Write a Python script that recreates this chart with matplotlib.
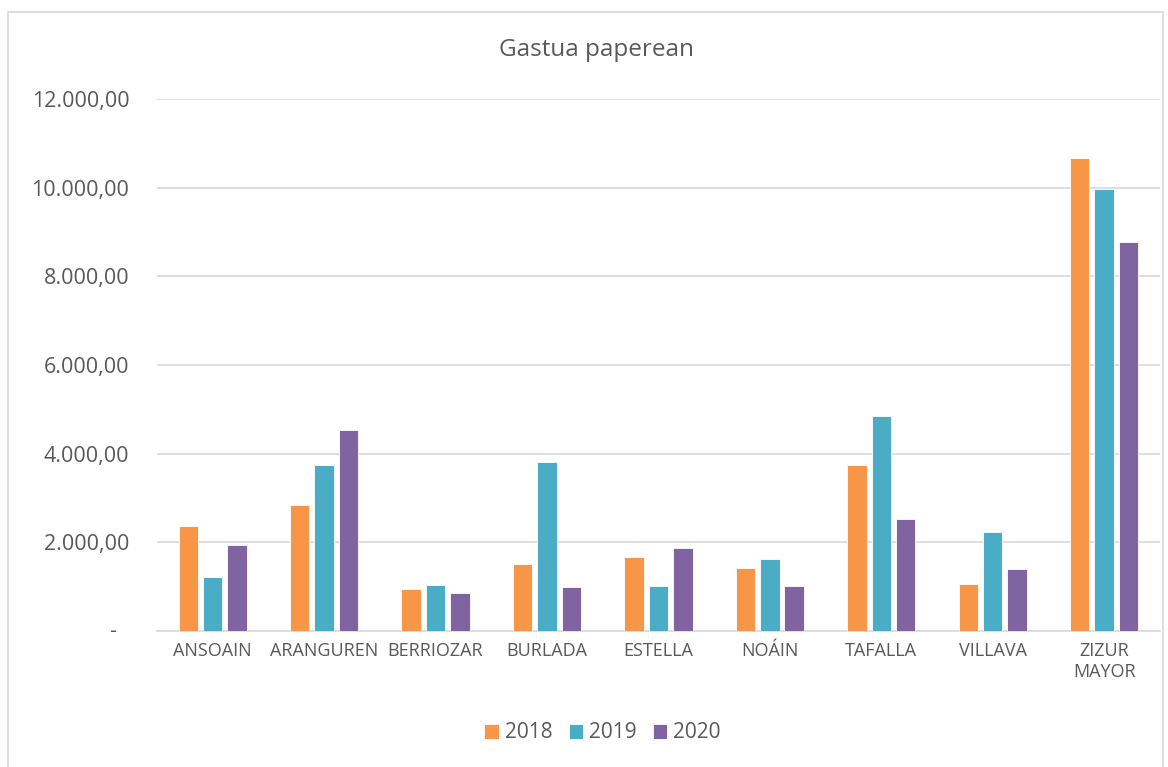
import matplotlib.pyplot as plt
import numpy as np
from matplotlib.patches import Rectangle

# data
herriak = ["ANSOAIN", "ARANGUREN", "BERRIOZAR", "BURLADA", "ESTELLA",
           "NOÁIN", "TAFALLA", "VILLAVA", "ZIZUR\nMAYOR"]
urteak = ["2018", "2019", "2020"]
g2018 = [2360, 2840, 947, 1504, 1662, 1428, 3736, 1060, 10664]
g2019 = [1225, 3745, 1030, 3804, 1008, 1616, 4848, 2240, 9970]
g2020 = [1930, 4525, 864, 985, 1865, 1015, 2519, 1391, 8774]
yticks = [0, 2000, 4000, 6000, 8000, 10000, 12000]
ylabels = ["-", "2.000,00", "4.000,00", "6.000,00", "8.000,00", "10.000,00", "12.000,00"]

colors = ["#F79646", "#4BACC6", "#8064A2"]
grey = "#595959"
plt.rcParams['font.family'] = ['Open Sans', 'DejaVu Sans']

fig = plt.figure(figsize=(11.68, 7.67), dpi=100)
ax = fig.add_axes([0.1344, 0.1773, 0.8586, 0.6937])

# chart border
fig.patches.append(Rectangle((8/1168, -0.01), 1155/1168, 1 - 12/767 + 0.01,
                             transform=fig.transFigure, fill=False,
                             edgecolor="#D9D9D9", lw=1.2))

x = np.arange(len(herriak))
w = 0.175
step = 0.219
for i, (vals, lab) in enumerate(zip([g2018, g2019, g2020], urteak)):
    ax.bar(x + (i - 1) * step, vals, w, color=colors[i], label=lab,
           edgecolor="white", linewidth=0.6, zorder=3)

ax.set_xlim(-0.5, len(herriak) - 0.5)
ax.set_ylim(0, 12000)
ax.set_yticks(yticks)
ax.set_yticklabels([l if l != "-" else "" for l in ylabels], fontsize=15.5, color=grey)
# accounting-style zero
ax.text((113 - 157) / 1003, 0, "-", transform=ax.get_yaxis_transform(), ha="center",
        va="center", fontsize=15.5, color=grey)
ax.set_xticks(x)
ax.set_xticklabels(herriak, fontsize=13, color=grey)
ax.tick_params(axis="y", length=0, pad=20)
ax.tick_params(axis="x", length=0, pad=8)
ax.grid(axis="y", color="#D9D9D9", lw=1.2, zorder=0)
for s in ["top", "right", "left"]:
    ax.spines[s].set_visible(False)
ax.spines["bottom"].set_color("#D9D9D9")
ax.spines["bottom"].set_linewidth(1.2)

fig.text(0.5105, 1 - 50/767, "Gastua paperean", ha="center", va="center",
         fontsize=17.5, color=grey)

fig.legend(loc="center", bbox_to_anchor=(0.516, 1 - 733/767), ncol=3,
           frameon=False, fontsize=15, handlelength=0.7, handleheight=0.7,
           columnspacing=0.75, handletextpad=0.3, labelcolor=grey)

fig.savefig("out.png", dpi=100)
